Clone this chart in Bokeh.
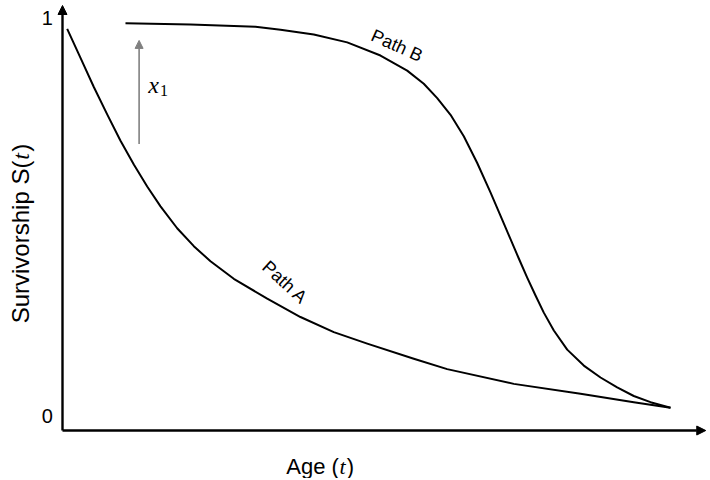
from bokeh.plotting import figure
from bokeh.models import Arrow, NormalHead, Label
from bokeh.embed import file_html
from bokeh.resources import INLINE

# ---- data (age in % of max age, survivorship 0..1) ----
age_a = [0.77, 2.96, 5.15, 7.35, 9.54, 11.73, 13.93, 16.12, 18.86, 21.60, 24.34,
         28.17, 33.67, 39.14, 44.62, 50.12, 57.78, 63.27, 74.23, 85.20, 93.96, 100.0]
surv_a = [0.979, 0.906, 0.833, 0.764, 0.698, 0.638, 0.583, 0.533, 0.478, 0.433,
          0.395, 0.351, 0.301, 0.255, 0.217, 0.188, 0.150, 0.124, 0.087, 0.062,
          0.041, 0.027]

age_b = [10.36, 21.05, 31.74, 35.86, 41.33, 46.83, 52.30, 56.69, 59.42, 61.63,
         63.82, 66.00, 68.21, 70.39, 72.58, 75.05, 76.43, 77.80, 79.16, 80.81,
         83.01, 85.74, 88.49, 91.23, 93.96, 96.71, 100.0]
surv_b = [0.993, 0.990, 0.984, 0.977, 0.965, 0.945, 0.912, 0.874, 0.841, 0.805,
          0.763, 0.709, 0.642, 0.568, 0.490, 0.402, 0.354, 0.309, 0.266, 0.221,
          0.173, 0.133, 0.103, 0.078, 0.0565, 0.041, 0.027]

y_ticks = [0, 1]
y_tick_labels = ["0", "1"]

# x1 shift arrow
shift_age = 12.6
shift_from = 0.690
shift_to = 0.950

# ---- layout ----
W, H = 708, 478
PX_T = 6.08      # px per age unit
PX_S = 398.0     # px per survivorship unit
x_start = -62 / PX_T
x_end = x_start + W / PX_T
y_end = 418 / PX_S
y_start = y_end - H / PX_S
axis_y = -0.0302            # horizontal axis position
axis_x = 0.0                # vertical axis position
axis_t_end = 105.8
axis_s_end = 1.0377

p = figure(width=W, height=H, x_range=(x_start, x_end), y_range=(y_start, y_end),
           output_backend="svg", toolbar_location=None, min_border=0)
p.axis.visible = False
p.grid.visible = False
p.outline_line_color = None
p.background_fill_color = "white"
p.border_fill_color = "white"

# axes with arrowheads
p.add_layout(Arrow(x_start=axis_x, y_start=axis_y, x_end=axis_t_end, y_end=axis_y,
                   line_color="black", line_width=2.4,
                   end=NormalHead(size=9, fill_color="black", line_color="black")))
p.add_layout(Arrow(x_start=axis_x, y_start=axis_y, x_end=axis_x, y_end=axis_s_end,
                   line_color="black", line_width=2.4,
                   end=NormalHead(size=9, fill_color="black", line_color="black")))

# curves
p.line(age_a, surv_a, line_color="black", line_width=2, line_join="round")
p.line(age_b, surv_b, line_color="black", line_width=2, line_join="round")

# shift arrow
p.add_layout(Arrow(x_start=shift_age, y_start=shift_from, x_end=shift_age, y_end=shift_to,
                   line_color="#808080", line_width=1.6,
                   end=NormalHead(size=8, fill_color="#808080", line_color="#808080")))

sans = "Liberation Sans, Arial, sans-serif"
serif = "Liberation Serif, DejaVu Serif, serif"
BLACK = "black"

# tick labels
for t, lab in zip(y_ticks, y_tick_labels):
    p.add_layout(Label(x=-2.5, y=t + 0.006, text=lab, text_font=sans,
                       text_font_size="20px", text_align="center",
                       text_baseline="middle", text_color=BLACK))

# x label: Age (t)
p.add_layout(Label(x=45.45, y=-0.1206, text="Age (", text_font=sans, text_font_size="22px",
                   text_align="right", text_baseline="middle", text_color=BLACK))
p.add_layout(Label(x=45.55, y=-0.1206, text="t", text_font=serif, text_font_style="italic",
                   text_font_size="22px", text_align="left", text_baseline="middle",
                   text_color=BLACK))
p.add_layout(Label(x=46.75, y=-0.1206, text=")", text_font=sans, text_font_size="22px",
                   text_align="left", text_baseline="middle", text_color=BLACK))

# y label: Survivorship S(t)
p.add_layout(Label(x=-6.9, y=0.648, text="Survivorship S(", text_font=sans,
                   text_font_size="24px", angle=1.5708, text_align="right",
                   text_baseline="middle", text_color=BLACK))
p.add_layout(Label(x=-6.9, y=0.650, text="t", text_font=serif, text_font_style="italic",
                   text_font_size="24px", angle=1.5708, text_align="left",
                   text_baseline="middle", text_color=BLACK))
p.add_layout(Label(x=-6.9, y=0.670, text=")", text_font=sans,
                   text_font_size="24px", angle=1.5708, text_align="left",
                   text_baseline="middle", text_color=BLACK))

# path labels
p.add_layout(Label(x=55.0, y=0.937, text="Path B", text_font=sans, text_font_size="18px",
                   angle=-0.42, text_align="center", text_baseline="middle",
                   text_color=BLACK))
p.add_layout(Label(x=36.6, y=0.342, text="Path A", text_font=sans, text_font_size="18px",
                   angle=-0.74, text_align="center", text_baseline="middle",
                   text_color=BLACK))

# x1 label
p.add_layout(Label(x=14.97, y=0.838, text="x", text_font=serif, text_font_style="italic",
                   text_font_size="24px", text_align="center", text_baseline="middle",
                   text_color=BLACK))
p.add_layout(Label(x=16.7, y=0.825, text="1", text_font=serif,
                   text_font_size="16px", text_align="center", text_baseline="middle",
                   text_color=BLACK))

open("out.html", "w").write(file_html(p, INLINE))
